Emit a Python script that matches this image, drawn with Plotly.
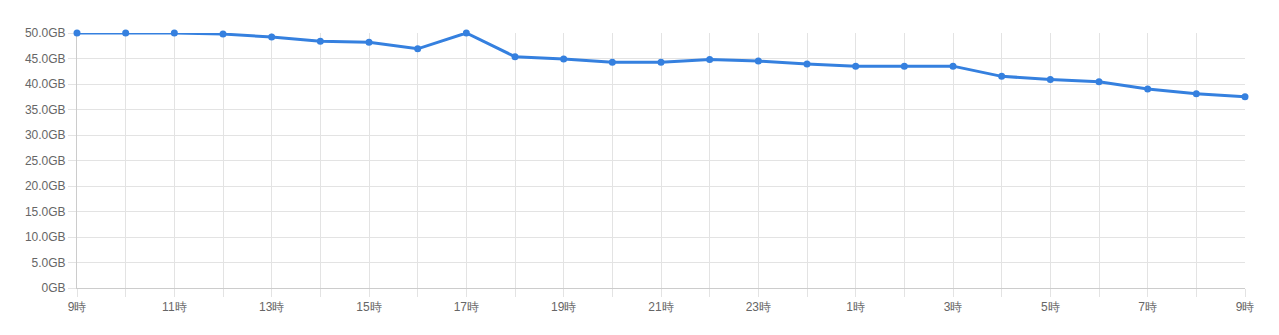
import plotly.graph_objects as go

hours = ["9時", "10時", "11時", "12時", "13時", "14時", "15時", "16時", "17時", "18時",
         "19時", "20時", "21時", "22時", "23時", "0時", "1時", "2時", "3時", "4時",
         "5時", "6時", "7時", "8時", "9時"]
usage_gb = [50.0, 50.0, 50.0, 49.8, 49.2, 48.4, 48.2, 46.9, 50.0, 45.35,
            44.9, 44.25, 44.25, 44.8, 44.5, 43.9, 43.5, 43.5, 43.5, 41.5,
            40.9, 40.45, 39.0, 38.1, 37.5]
y_ticks = [0, 5, 10, 15, 20, 25, 30, 35, 40, 45, 50]
y_tick_labels = ["0GB"] + [f"{v:.1f}GB" for v in y_ticks[1:]]

x_pos = list(range(len(hours)))
x_tick_labels = [h if i % 2 == 0 else "" for i, h in enumerate(hours)]

line_color = "#3580df"
grid_color = "#e3e3e3"

fig = go.Figure(go.Scatter(
    x=x_pos, y=usage_gb, mode="lines+markers",
    line=dict(color=line_color, width=3),
    marker=dict(color=line_color, size=7),
    cliponaxis=False, hoverinfo="y",
))

fig.update_layout(
    width=1279, height=335,
    margin=dict(l=77, r=34, t=33, b=47),
    paper_bgcolor="white", plot_bgcolor="white",
    showlegend=False,
    font=dict(family="Liberation Sans, Arial, sans-serif", size=12, color="#666666"),
)
fig.update_xaxes(
    range=[0, 24], tickvals=x_pos, ticktext=x_tick_labels,
    showgrid=True, gridcolor=grid_color, gridwidth=1,
    ticks="outside", ticklen=8, tickcolor=grid_color,
    showline=True, linecolor="#cccccc", linewidth=1,
    zeroline=False, mirror=False, layer="below traces",
)
fig.update_yaxes(
    range=[0, 50], tickvals=y_ticks, ticktext=y_tick_labels,
    showgrid=True, gridcolor=grid_color, gridwidth=1,
    ticks="outside", ticklen=8, tickcolor=grid_color,
    showline=True, linecolor="#cccccc", linewidth=1,
    zeroline=False, layer="below traces",
)

fig.write_html("out.html")
